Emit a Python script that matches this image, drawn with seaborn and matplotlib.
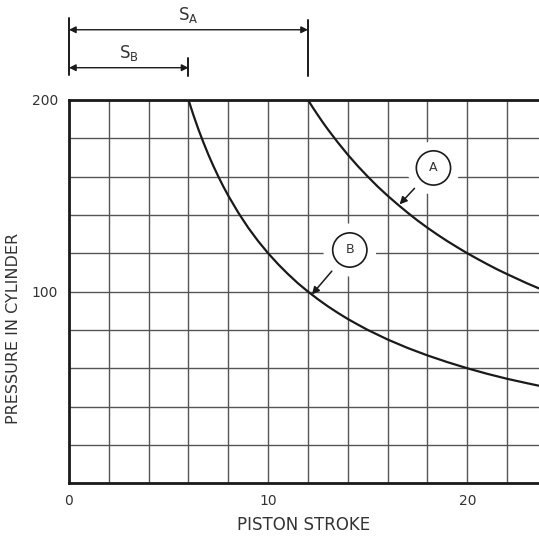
import matplotlib
matplotlib.use("Agg")
import matplotlib.pyplot as plt
import seaborn as sns
import pandas as pd

# ---- data ----
curve_a_x = [12, 12.25, 12.5, 12.75, 13, 13.5, 14, 14.5, 15, 15.5, 16, 16.5, 17, 17.5,
             18, 18.5, 19, 19.5, 20, 20.5, 21, 21.5, 22, 22.5, 23, 23.5, 24]
curve_a_y = [200, 195.9, 192.0, 188.2, 184.6, 177.8, 171.4, 165.5, 160.0, 154.8, 150.0,
             145.5, 141.2, 137.1, 133.3, 129.7, 126.3, 123.1, 120.0, 117.1, 114.3,
             111.6, 109.1, 106.7, 104.3, 102.1, 100.0]
curve_b_x = [6, 6.25, 6.5, 6.75, 7, 7.25, 7.5, 7.75, 8, 8.5, 9, 9.5, 10, 10.5, 11, 11.5,
             12, 12.5, 13, 13.5, 14, 14.5, 15, 16, 17, 18, 19, 20, 21, 22, 23, 24]
curve_b_y = [200, 192.0, 184.6, 177.8, 171.4, 165.5, 160.0, 154.8, 150.0, 141.2, 133.3,
             126.3, 120.0, 114.3, 109.1, 104.3, 100.0, 96.0, 92.3, 88.9, 85.7, 82.8,
             80.0, 75.0, 70.6, 66.7, 63.2, 60.0, 57.1, 54.5, 52.2, 50.0]
x_ticks = [0, 10, 20]
y_ticks = [100, 200]
stroke_a = 12
stroke_b = 6

sns.set_style("white")
plt.rcParams['font.family'] = ['DejaVu Sans']

fig = plt.figure(figsize=(5.39, 5.43), dpi=100)
ax = fig.add_axes([0.128, 0.110, 0.872, 0.706])

ink = "#1a1a1a"
df_a = pd.DataFrame({"x": curve_a_x, "y": curve_a_y})
df_b = pd.DataFrame({"x": curve_b_x, "y": curve_b_y})
sns.lineplot(data=df_a, x="x", y="y", ax=ax, color=ink, lw=1.6, sort=False, zorder=4)
sns.lineplot(data=df_b, x="x", y="y", ax=ax, color=ink, lw=1.6, sort=False, zorder=4)

ax.set_xlim(0, 23.6)
ax.set_ylim(0, 200)
ax.set_xticks([v for v in range(0, 24, 2)], minor=True)
ax.set_yticks([v for v in range(0, 201, 20)], minor=True)
ax.set_xticks(x_ticks)
ax.set_yticks(y_ticks)
ax.set_xticklabels([str(v) for v in x_ticks], fontsize=10, color="#333333")
ax.set_yticklabels([str(v) for v in y_ticks], fontsize=10, color="#333333")
ax.tick_params(which="both", length=0, pad=8)
ax.grid(which="minor", color="#555555", lw=1.0)
ax.grid(which="major", color="#555555", lw=1.0)
for s in ["left", "bottom", "top"]:
    ax.spines[s].set_color(ink)
    ax.spines[s].set_linewidth(2.0)
ax.spines["right"].set_visible(False)

ax.set_xlabel("PISTON STROKE", fontsize=12, color="#333333")
ax.xaxis.set_label_coords(0.5, -0.086)
ax.set_ylabel("PRESSURE IN CYLINDER", fontsize=11.5, color="#333333")
ax.yaxis.set_label_coords(-0.102, 0.405)

# labels A and B with arrows
for label, (cx, cy), (tx, ty) in [("A", (18.3, 164.5), (16.6, 145.5)),
                                  ("B", (14.1, 121.7), (12.2, 98.5))]:
    ax.annotate("", xy=(tx, ty), xytext=(cx, cy),
                arrowprops=dict(arrowstyle="-|>", color=ink, lw=1.1,
                                shrinkA=20, shrinkB=0, mutation_scale=11),
                zorder=6)
    # white halo that interrupts the grid around each label
    ax.text(cx, cy, label, ha="center", va="center", fontsize=9, color="none",
            bbox=dict(boxstyle="circle,pad=1.6", fc="white", ec="none"), zorder=5)
    ax.text(cx, cy, label, ha="center", va="center", fontsize=9, color="#333333",
            bbox=dict(boxstyle="circle,pad=0.85", fc="white", ec=ink, lw=1.2), zorder=7)

# dimension lines above the chart
tr = ax.get_xaxis_transform()
for xv, y0, y1 in [(0, 1.065, 1.214), (stroke_a, 1.062, 1.208), (stroke_b, 1.063, 1.110)]:
    ax.plot([xv, xv], [y0, y1], transform=tr, color=ink, lw=1.4, clip_on=False)
for xv, yv, name, sub in [(stroke_a, 1.183, "S", "A"), (stroke_b, 1.084, "S", "B")]:
    ax.annotate("", xy=(0, yv), xytext=(xv, yv), xycoords=tr, textcoords=tr,
                arrowprops=dict(arrowstyle="<|-|>", color=ink, lw=1.0,
                                shrinkA=0, shrinkB=0, mutation_scale=10))
    ax.text(xv / 2, yv + 0.012, name + r"$_{\mathregular{" + sub + "}}$", transform=tr,
            ha="center", va="bottom", fontsize=12, color="#333333")

fig.savefig("out.png", dpi=100, facecolor="white")
